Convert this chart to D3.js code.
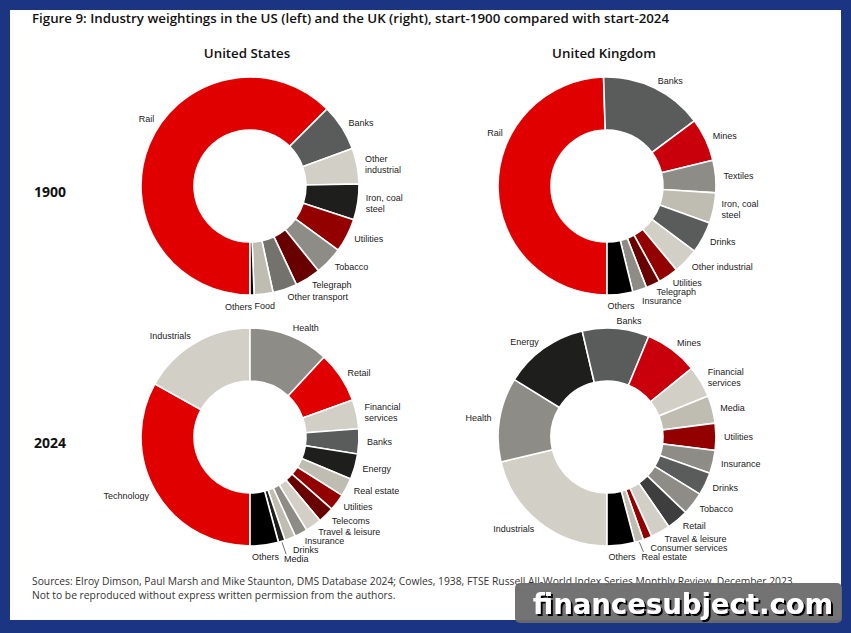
<!DOCTYPE html>
<html>
<head>
<meta charset="utf-8">
<script src="https://cdn.jsdelivr.net/npm/d3@7"></script>
<style>
  body { margin: 0; background: #1b3583; }
  svg { display: block; }
  .lbl { font-family: "Liberation Sans", Arial, sans-serif; font-size: 9px; fill: #1a1a1a; }
</style>
</head>
<body>
<svg width="851" height="633"></svg>
<script>
// ---- data (percent weights) ----
const us1900Cats = ['Rail', 'Banks', 'Other\nindustrial', 'Iron, coal\nsteel', 'Utilities', 'Tobacco', 'Telegraph', 'Other transport', 'Food', 'Others']
const us1900Vals = [62.5, 6.9, 5.3, 5.3, 5.0, 4.2, 3.8, 3.6, 2.8, 0.6]

const uk1900Cats = ['Rail', 'Banks', 'Mines', 'Textiles', 'Iron, coal\nsteel', 'Drinks', 'Other industrial', 'Utilities', 'Telegraph', 'Insurance', 'Others']
const uk1900Vals = [49.5, 15.3, 6.4, 4.8, 4.5, 4.7, 3.8, 3.0, 2.1, 2.1, 3.8]

const us2024Cats = ['Technology', 'Industrials', 'Health', 'Retail', 'Financial\nservices', 'Banks', 'Energy', 'Real estate', 'Utilities', 'Telecoms', 'Travel & leisure', 'Insurance', 'Drinks', 'Media', 'Others']
const us2024Vals = [33.1, 16.9, 11.9, 7.6, 4.3, 3.7, 3.8, 2.7, 2.5, 2.4, 2.4, 1.9, 1.6, 1.0, 4.2]

const uk2024Cats = ['Industrials', 'Health', 'Energy', 'Banks', 'Mines', 'Financial\nservices', 'Media', 'Utilities', 'Insurance', 'Drinks', 'Tobacco', 'Retail', 'Travel & leisure', 'Consumer services', 'Real estate', 'Others']
const uk2024Vals = [21.3, 12.5, 12.5, 9.9, 7.9, 4.7, 4.1, 4.0, 3.4, 3.4, 3.4, 3.2, 2.9, 1.3, 1.3, 4.1]

// ---- colours ----
const RED = '#e10000', MINES = '#c9000b', DRED = '#930000', MAROON = '#690000',
      DGRAY = '#5a5b5b', GRAY = '#8e8c86', LIGHT = '#d1cfc6', BEIGE = '#bfbcb1',
      NEARBLK = '#1e1e1d', BLACK = '#000000', CHAR = '#3e3e3e'
const us1900Cols = [RED, DGRAY, LIGHT, NEARBLK, DRED, GRAY, MAROON, '#73726d', BEIGE, BLACK]
const uk1900Cols = [RED, DGRAY, MINES, GRAY, BEIGE, DGRAY, LIGHT, DRED, MAROON, GRAY, BLACK]
const us2024Cols = [RED, LIGHT, GRAY, RED, LIGHT, DGRAY, NEARBLK, BEIGE, DRED, MAROON, LIGHT, GRAY, BEIGE, NEARBLK, BLACK]
const uk2024Cols = [LIGHT, GRAY, NEARBLK, DGRAY, MINES, LIGHT, BEIGE, DRED, GRAY, DGRAY, GRAY, CHAR, LIGHT, DRED, BEIGE, BLACK]

let svg = d3.select('svg')
let W = +svg.attr('width'), H = +svg.attr('height')

// shadow for the watermark text
svg.append('defs').append('filter').attr('id', 'shadow')
    .attr('x', '-5%').attr('y', '-20%').attr('width', '115%').attr('height', '150%')
    .append('feDropShadow').attr('dx', 2).attr('dy', 2).attr('stdDeviation', 0.4)
    .attr('flood-color', '#000').attr('flood-opacity', 1)

// frame
svg.append('rect').attr('width', W).attr('height', H).attr('fill', '#1b3583')
svg.append('rect').attr('x', 10).attr('y', 10).attr('width', W - 20).attr('height', H - 23).attr('fill', '#fff')

svg.append('text')
    .attr('x', 32).attr('y', 23)
    .style('font-family', '"Open Sans", sans-serif').style('font-weight', 600).style('font-size', '13.3px')
    .attr('fill', '#111')
    .text('Figure 9: Industry weightings in the US (left) and the UK (right), start-1900 compared with start-2024')

let outerR = 109, innerR = 56
let colX = [250, 607], rowY = [186, 437]

// column / row headers
;['United States', 'United Kingdom'].forEach((t, i) => {
    svg.append('text').attr('x', colX[i] - 3).attr('y', 58).attr('text-anchor', 'middle')
        .style('font-family', '"Open Sans", sans-serif').style('font-weight', 600).style('font-size', '13.3px')
        .attr('fill', '#111').text(t)
})
;['1900', '2024'].forEach((t, i) => {
    svg.append('text').attr('x', 34).attr('y', rowY[i] + 11)
        .style('font-family', '"Open Sans", sans-serif').style('font-weight', 700).style('font-size', '14px')
        .attr('fill', '#111').text(t)
})

// big slices whose label sits higher than mid-angle
let labelAngle = {'us1900|Rail': 305, 'uk1900|Rail': 297}

let charts = [
    {id: 'us1900', cats: us1900Cats, vals: us1900Vals, cols: us1900Cols, cx: colX[0], cy: rowY[0]},
    {id: 'uk1900', cats: uk1900Cats, vals: uk1900Vals, cols: uk1900Cols, cx: colX[1], cy: rowY[0]},
    {id: 'us2024', cats: us2024Cats, vals: us2024Vals, cols: us2024Cols, cx: colX[0], cy: rowY[1]},
    {id: 'uk2024', cats: uk2024Cats, vals: uk2024Vals, cols: uk2024Cols, cx: colX[1], cy: rowY[1]}
]

let pie = d3.pie().sort(null).startAngle(Math.PI).endAngle(3 * Math.PI)
let arc = d3.arc().innerRadius(innerR).outerRadius(outerR)

charts.forEach(c => {
    let g = svg.append('g').attr('transform', 'translate(' + c.cx + ',' + c.cy + ')')
    let arcs = pie(c.vals)
    g.selectAll('path')
        .data(arcs)
        .enter()
        .append('path')
        .attr('d', arc)
        .attr('fill', (d, i) => c.cols[i])
        .attr('stroke', '#fff')
        .attr('stroke-width', 1.6)

    // labels: outside end, at the slice mid-angle
    let rl = outerR + 8
    let prevY = null, prevH = 0
    let placed = []
    arcs.forEach((d, i) => {
        let name = c.cats[i]
        let a = (d.startAngle + d.endAngle) / 2
        let key = c.id + '|' + name.split('\n')[0]
        if (labelAngle[key] !== undefined) a = labelAngle[key] * Math.PI / 180
        let deg = (a * 180 / Math.PI) % 360
        let x = rl * Math.sin(a), y = -rl * Math.cos(a)
        let anchor = deg < 168 ? 'start' : deg <= 192 ? 'middle' : 'end'
        let lines = name.split('\n')
        let h = lines.length * 10
        let y0 = y
        if (anchor === 'start' && deg > 90 && prevY !== null) {
            y = Math.max(y, prevY + (prevH + h) / 2 - 1)
        }
        if (anchor === 'start') { prevY = y; prevH = h }
        if (anchor === 'middle') y += 4

        let t = g.append('text').attr('class', 'lbl').attr('text-anchor', anchor)
        lines.forEach((ln, k) => {
            t.append('tspan').attr('x', x)
                .attr('y', y + (k - (lines.length - 1) / 2) * 11)
                .attr('dy', '0.35em').text(ln)
        })
        // leader line when a label had to be pushed away from its slice
        if (y - y0 > 6) {
            let ax = (outerR + 1) * Math.sin(a), ay = -(outerR + 1) * Math.cos(a)
            g.append('line').attr('x1', ax).attr('y1', ay).attr('x2', x + 2).attr('y2', y - 5)
                .attr('stroke', '#333').attr('stroke-width', 0.7)
        }
        // keep bottom labels from running into their neighbour
        if (anchor === 'middle') {
            let b = t.node().getBBox()
            placed.forEach(p => {
                if (b.x < p.x + p.width && b.x + b.width > p.x && b.y < p.y + p.height && b.y + b.height > p.y) {
                    let shift = b.x + b.width - p.x + 2
                    t.selectAll('tspan').attr('x', x - shift)
                    b = t.node().getBBox()
                }
            })
        }
        placed.push(t.node().getBBox())
    })
})

// sources
let src = svg.append('text')
    .style('font-family', '"Open Sans", sans-serif').style('font-size', '10.3px').attr('fill', '#333')
src.append('tspan').attr('x', 32).attr('y', 585)
    .text('Sources: Elroy Dimson, Paul Marsh and Mike Staunton, DMS Database 2024; Cowles, 1938, FTSE Russell All-World Index Series Monthly Review, December 2023.')
src.append('tspan').attr('x', 32).attr('y', 599)
    .text('Not to be reproduced without express written permission from the authors.')

// watermark
svg.append('rect').attr('x', 515).attr('y', 583).attr('width', 327).attr('height', 40).attr('rx', 5)
    .attr('fill', '#6c6c6c').attr('opacity', 0.95)
svg.append('text').attr('x', 683).attr('y', 614).attr('text-anchor', 'middle')
    .style('font-family', '"DejaVu Sans", sans-serif').style('font-weight', 700).style('font-size', '27.5px')
    .attr('fill', '#fff').attr('filter', 'url(#shadow)').text('financesubject.com')
</script>
</body>
</html>
